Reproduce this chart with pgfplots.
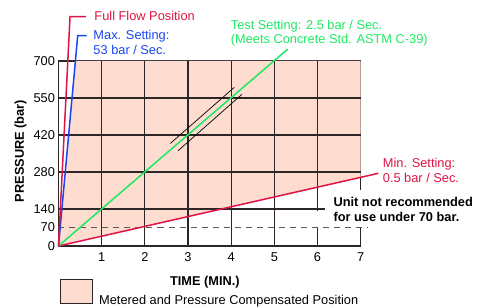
\documentclass[border=0pt]{standalone}
\usepackage{fontspec}
\setmainfont{Liberation Sans}
\usepackage{pgfplots}
\pgfplotsset{compat=1.18}
\definecolor{pinkfill}{RGB}{254,220,208}
\definecolor{fullred}{RGB}{222,20,70}
\definecolor{maxblue}{RGB}{25,70,240}
\definecolor{testgreen}{RGB}{30,232,100}
\definecolor{gridc}{RGB}{45,38,38}
\newcommand{\fs}{\fontsize{12.8bp}{15bp}\selectfont}
\begin{document}
\begin{tikzpicture}[font=\fs]
\begin{axis}[
  at={(0,0)}, anchor=origin,
  x=43.17bp, y=0.2643bp,
  xmin=0, xmax=7, ymin=0, ymax=700,
  clip=false,
  axis line style={gridc, line width=1.1bp},
  xtick={1,2,3,4,5,6,7},
  ytick={0,70,140,280,420,560,700},
  yticklabels={0,70,140,280,420,550,700},
  major tick length=0pt,
  tick label style={font=\fs},
  xticklabel style={yshift=-3bp},
  /pgf/number format/assume math mode=true,
]
\addplot[draw=none, fill=pinkfill, mark=none] coordinates {(0.391,700) (7,700) (7,259.7) (0,0)} -- cycle;
% grid lines
\pgfplotsinvokeforeach{1,2,3,4,5,6}{\draw[gridc, line width=1.1bp] (axis cs:#1,0) -- (axis cs:#1,700);}
\pgfplotsinvokeforeach{140,280,420,560}{\draw[gridc, line width=1.1bp] (axis cs:0,#1) -- (axis cs:7,#1);}
% 70 bar dashed limit
\addplot[black!65, line width=1bp, dash pattern=on 6bp off 5bp] coordinates {(0,70) (7.15,70)};
% parallel black lines
\addplot[black, line width=0.7bp] coordinates {(2.59,388) (4.07,600)};
\addplot[black, line width=0.7bp] coordinates {(2.77,360.6) (4.25,574)};
% min setting
\addplot[fullred, line width=1.5bp] coordinates {(0,0) (7.41,275)};
% test setting
\addplot[testgreen, line width=1.5bp] coordinates {(0,0) (5.31,745)};
% max setting
\addplot[maxblue, line width=1.5bp] coordinates {(0,0) (0.445,795.7) (0.653,795.7)};
% full flow
\addplot[fullred, line width=1.5bp] coordinates {(0,0) (0.267,867.6) (0.637,867.6)};
% white boxes
\fill[white] (axis cs:6.175,211.9) rectangle (axis cs:9.76,132.4);
\fill[white] (axis cs:5.919,132.4) rectangle (axis cs:9.76,71.9);
% texts
\node[anchor=base west, inner sep=0, text=fullred] at (axis cs:0.829,852.4) {Full Flow Position};
\node[anchor=base west, inner sep=0, text=maxblue] at (axis cs:0.806,782.1) {Max. Setting:};
\node[anchor=base west, inner sep=0, text=maxblue] at (axis cs:0.806,725.3) {53 bar / Sec.};
\node[anchor=base west, inner sep=0, text=testgreen] at (axis cs:3.989,821.0) {Test Setting: 2.5 bar / Sec.};
\node[anchor=base west, inner sep=0, text=testgreen] at (axis cs:3.989,766.9) {(Meets Concrete Std. ASTM C-39)};
\node[anchor=base west, inner sep=0, text=fullred] at (axis cs:7.51,297.8) {Min. Setting:};
\node[anchor=base west, inner sep=0, text=fullred] at (axis cs:7.51,239.5) {0.5 bar / Sec.};
\node[anchor=base west, inner sep=0, font=\fs\bfseries] at (axis cs:6.366,151.3) {Unit not recommended};
\node[anchor=base west, inner sep=0, font=\fs\bfseries] at (axis cs:6.366,91.9) {for use under 70 bar.};
\node[anchor=base, inner sep=0, font=\fs\bfseries] at (axis cs:3.39,-150.2) {TIME (MIN.)};
\node[rotate=90, anchor=center, inner sep=0, font=\fs\bfseries] at (axis cs:-0.88,359.4) {PRESSURE (bar)};
\draw[fill=pinkfill, draw=gridc, line width=1bp] (axis cs:0.035,-126) rectangle (axis cs:0.783,-216.8);
\node[anchor=base west, inner sep=0] at (axis cs:0.938,-220) {Metered and Pressure Compensated Position};
\end{axis}
\pgfresetboundingbox
\useasboundingbox (-58.5bp,-61bp) rectangle (429.5bp,246bp);
\end{tikzpicture}
\end{document}
